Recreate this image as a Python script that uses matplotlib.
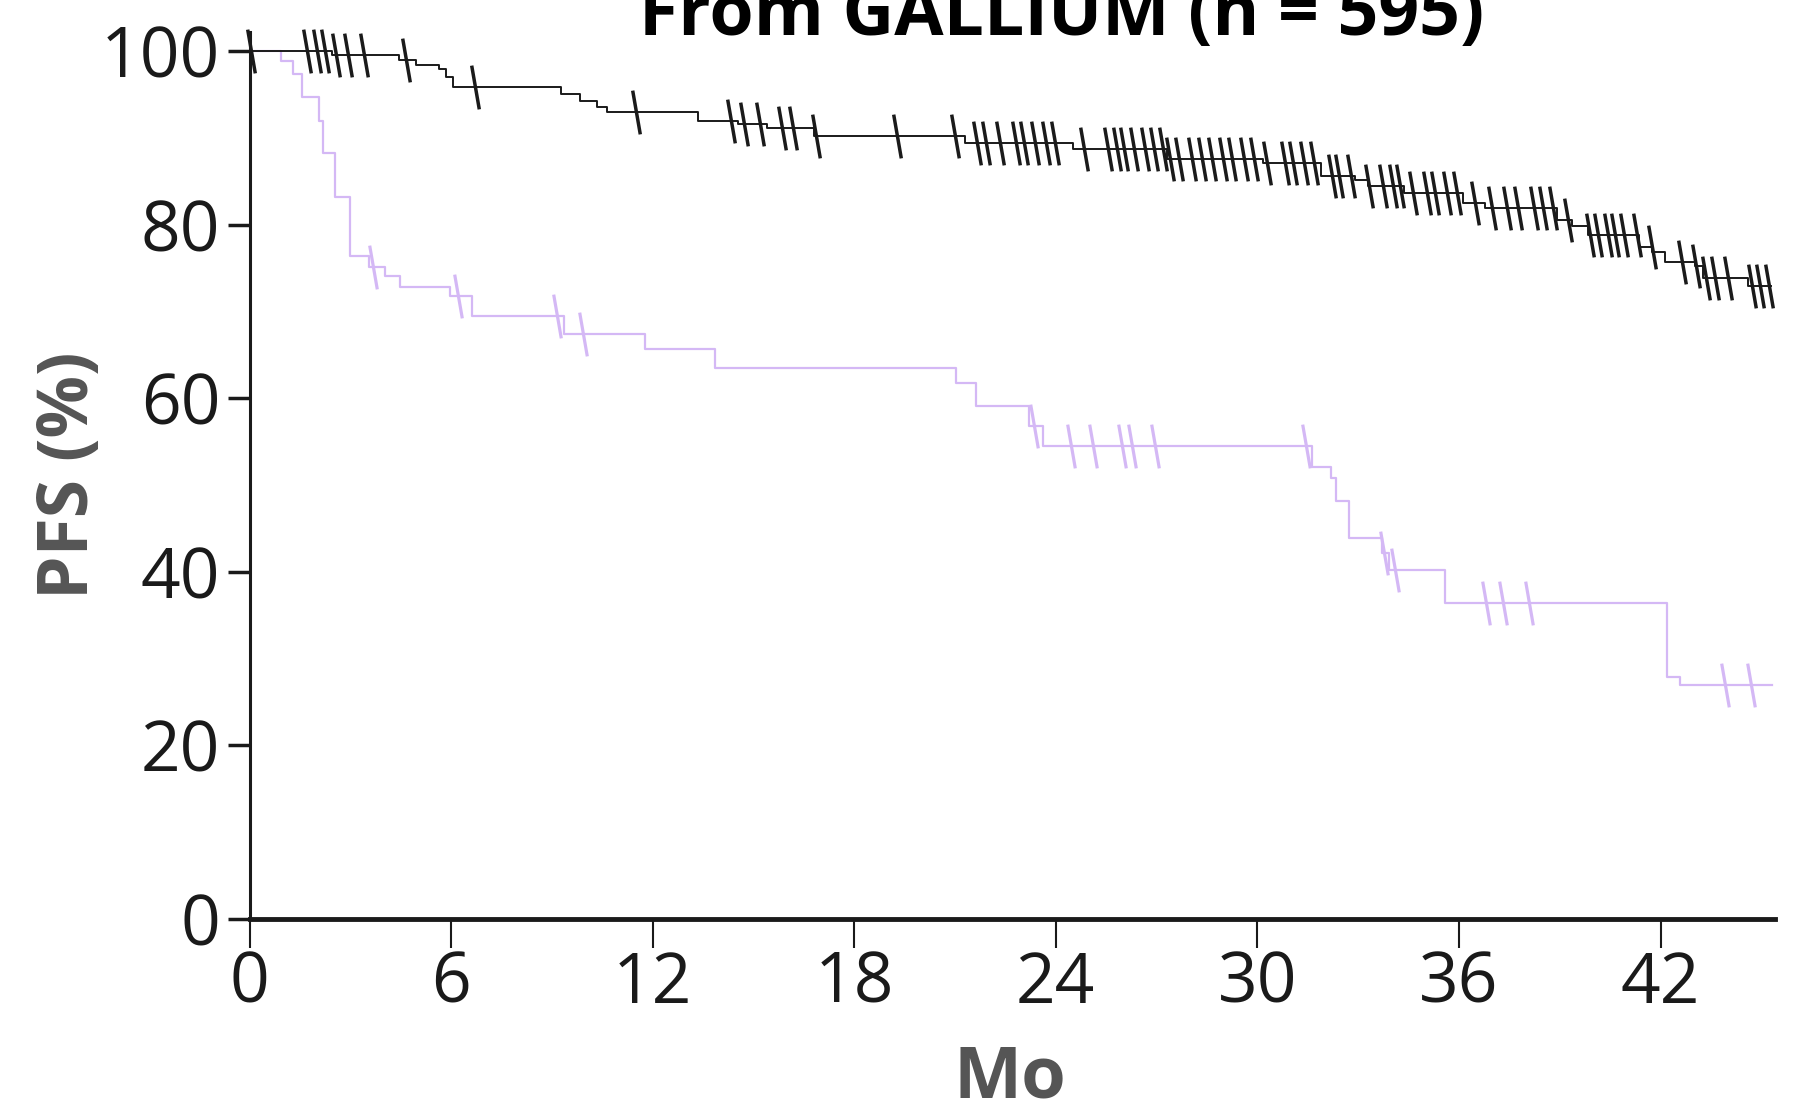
import numpy as np
import matplotlib
matplotlib.use("Agg")
import matplotlib.pyplot as plt
from matplotlib.path import Path

plt.rcParams['font.family'] = ['Open Sans', 'DejaVu Sans']

# GALLIUM curve (black)
gal_t = [0, 2.47, 4.45, 4.97, 5.65, 5.85, 6.07, 9.26, 9.84, 10.33, 10.65, 13.34, 14.55,
         15.4, 16.8, 21.3, 24.52, 27.3, 30.18, 31.89, 32.91, 33.28, 34.35, 36.13, 36.78,
         38.91, 39.36, 39.83, 41.35, 41.75, 42.12, 43.04, 43.27, 44.6]
gal_s = [100, 99.6, 99.0, 98.4, 97.9, 97.0, 95.9, 95.1, 94.3, 93.5, 93.0, 92.0, 91.6,
         91.1, 90.2, 89.4, 88.7, 87.6, 87.1, 85.6, 85.1, 84.4, 83.6, 82.5, 81.9,
         80.5, 79.8, 78.8, 77.4, 76.8, 75.7, 75.2, 73.9, 72.9]
gal_end = 45.3
gal_cens = [0.03, 1.72, 2.02, 2.24, 2.57, 2.94, 3.41, 4.66, 6.71, 11.5, 14.32, 14.72,
            15.19, 15.84, 16.17, 16.86, 19.28, 21.0, 21.66, 21.91, 22.34, 22.81, 23.05,
            23.39, 23.71, 23.98, 24.84, 25.55, 25.81, 26.04, 26.33, 26.66, 26.93, 27.2,
            27.4, 27.68, 28.06, 28.35, 28.64, 28.97, 29.24, 29.6, 29.91, 30.28, 30.82,
            31.07, 31.4, 31.7, 32.22, 32.44, 32.78, 33.33, 33.73, 34.03, 34.26, 34.64,
            35.04, 35.29, 35.64, 35.93, 36.48, 36.99, 37.42, 37.77, 38.24, 38.49, 38.81,
            39.24, 39.91, 40.15, 40.45, 40.65, 40.9, 41.3, 41.74, 42.63, 43.06, 43.36,
            43.62, 44.02, 44.72, 44.95, 45.22]

# comparison curve (purple)
pur_t = [0, 0.93, 1.28, 1.56, 2.06, 2.19, 2.54, 2.98, 3.56, 4.03, 4.49, 5.97, 6.63,
         9.35, 11.76, 13.86, 21.02, 21.63, 23.2, 23.62, 31.63, 32.2, 32.35, 32.72, 33.72,
         33.92, 35.59, 42.18, 42.58]
pur_s = [100, 98.8, 97.4, 94.7, 92.0, 88.2, 83.2, 76.4, 75.1, 74.1, 72.8, 71.8, 69.5,
         67.4, 65.7, 63.5, 61.8, 59.1, 56.8, 54.5, 52.1, 50.8, 48.2, 43.9, 42.2,
         40.2, 36.4, 27.9, 27.0]
pur_end = 45.31
pur_cens = [3.67, 6.2, 9.15, 9.92, 23.34, 24.44, 25.1, 25.96, 26.28, 26.95, 31.45,
            33.76, 34.1, 36.8, 37.3, 38.09, 43.92, 44.68]

x_ticks = [0, 6, 12, 18, 24, 30, 36, 42]
y_ticks = [0, 20, 40, 60, 80, 100]

BLACK = '#1a1a1a'
PURPLE = '#d4b8f5'
GRAY = '#555555'

tick_mark = Path([(-0.087, 0.5), (0.087, -0.5)], [Path.MOVETO, Path.LINETO])


def km(ax, t, s, end, cens, color, lw, mew):
    xs = list(t) + [end]
    ys = list(s) + [s[-1]]
    ax.step(xs, ys, where='post', color=color, lw=lw, zorder=2)
    idx = np.searchsorted(t, cens, side='right') - 1
    cy = np.array(s)[idx]
    ax.plot(cens, cy, linestyle='none', marker=tick_mark, markersize=31.5,
            markeredgewidth=mew, color=color, clip_on=False, zorder=3)


fig = plt.figure(figsize=(17.95, 11.03), dpi=100)
ax = fig.add_axes([0.139, 0.1668, 0.8499, 0.8042])

km(ax, pur_t, pur_s, pur_end, pur_cens, PURPLE, 1.6, 2.3)
km(ax, gal_t, gal_s, gal_end, gal_cens, BLACK, 1.4, 2.5)

ax.set_xlim(0, 45.41)
ax.set_ylim(0, 102.2)
ax.set_xticks(x_ticks)
ax.set_yticks(y_ticks)
ax.set_xticklabels([str(v) for v in x_ticks])
ax.set_yticklabels([str(v) for v in y_ticks])

for side in ['top', 'right']:
    ax.spines[side].set_visible(False)
ax.spines['left'].set_linewidth(2.2)
ax.spines['bottom'].set_linewidth(3.5)
ax.spines['left'].set_color(BLACK)
ax.spines['bottom'].set_color(BLACK)

ax.tick_params(axis='x', length=21, width=1.5, pad=1, labelsize=50, colors=BLACK)
ax.tick_params(axis='y', length=16, width=2.5, pad=5, labelsize=50, colors=BLACK)

# title is cropped at the top edge, as in the source image
fig.text(0.5916, 0.9685, 'From GALLIUM (n = 595)', ha='center', va='baseline',
         fontsize=51.5, fontweight='bold', color='black')
fig.text(0.5627, 0.0054, 'Mo', ha='center', va='baseline',
         fontsize=52, fontweight='bold', color=GRAY)
fig.text(0.039, 0.5694, 'PFS (%)', ha='center', va='center', rotation=90,
         fontsize=50, fontweight='bold', color=GRAY)

fig.savefig('out.png', dpi=100)
